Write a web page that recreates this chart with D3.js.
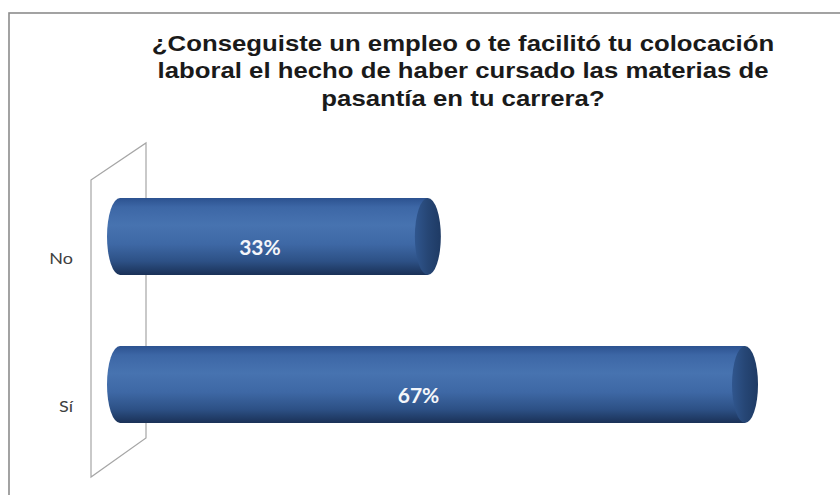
<!DOCTYPE html>
<html>
<head>
<meta charset="utf-8">
<script src="https://cdn.jsdelivr.net/npm/d3@7"></script>
<style>
html,body{margin:0;padding:0;background:#fff;}
svg{display:block;}
</style>
</head>
<body>
<svg id="chart" width="840" height="495"></svg>
<script>
const categories = ["No", "Sí"];
const values = [0.33, 0.67];
const valueLabels = ["33%", "67%"];
const titleLines = [
  "¿Conseguiste un empleo o te facilitó tu colocación",
  "laboral el hecho de haber cursado las materias de",
  "pasantía en tu carrera?"
];

const svg = d3.select("#chart");
const defs = svg.append("defs");

// outer frame (clipped by window)
svg.append("rect").attr("x", 9).attr("y", 13).attr("width", 860).attr("height", 520)
  .attr("fill", "#fff").attr("stroke", "#8c8c8c").attr("stroke-width", 1.6);

// title
svg.append("g").attr("transform", "translate(463,0) scale(1.12,1)")
  .append("text")
  .attr("font-family", "Liberation Sans, Arial, sans-serif")
  .attr("font-weight", "bold").attr("font-size", 23).attr("fill", "#1a1a1a")
  .attr("text-anchor", "middle")
  .selectAll("tspan").data(titleLines).join("tspan")
  .attr("x", 0).attr("y", (d, i) => 51 + i * 27.5).text(d => d);

const x = d3.scaleLinear().domain([0, 0.7]).range([120, 773]);
const y = d3.scaleBand().domain(categories).range([162.5, 458.5]).paddingInner(0.48).paddingOuter(0.24);

// back wall
svg.append("path")
  .attr("d", "M91,180 L146,143 L146,438 L91,477 Z")
  .attr("fill", "#fff").attr("stroke", "#a6a6a6").attr("stroke-width", 1.2);

// gradients
const gBody = defs.append("linearGradient").attr("id", "body").attr("x1", 0).attr("y1", 0).attr("x2", 0).attr("y2", 1);
[[0, "#2c5290"], [0.12, "#3d67a6"], [0.35, "#4773b0"], [0.6, "#3e68a5"], [0.82, "#2d5186"], [1, "#1a3157"]]
  .forEach(([o, c]) => gBody.append("stop").attr("offset", o).attr("stop-color", c));
const gCap = defs.append("linearGradient").attr("id", "cap").attr("x1", 0).attr("y1", 0).attr("x2", 1).attr("y2", 0);
[[0, "#30568e"], [0.5, "#264675"], [1, "#1e3a64"]]
  .forEach(([o, c]) => gCap.append("stop").attr("offset", o).attr("stop-color", c));

const rx = 13;
const bars = svg.append("g").selectAll("g").data(categories).join("g");
bars.each(function (c, i) {
  const g = d3.select(this);
  const y0 = y(c), h = y.bandwidth(), cy = y0 + h / 2;
  const xs = x(0), xe = x(values[i]);
  g.append("path")
    .attr("d", `M${xs},${y0} L${xe},${y0} L${xe},${y0 + h} L${xs},${y0 + h} A${rx},${h / 2} 0 0 1 ${xs},${y0} Z`)
    .attr("fill", "url(#body)");
  g.append("ellipse").attr("cx", xe).attr("cy", cy).attr("rx", rx).attr("ry", h / 2)
    .attr("fill", "url(#cap)");
});

// value labels
svg.append("g").selectAll("text").data(categories).join("text")
  .attr("x", (c, i) => (x(0) + x(values[i])) / 2 - 14)
  .attr("y", c => y(c) + y.bandwidth() / 2 + 18)
  .attr("text-anchor", "middle")
  .attr("font-family", "Lato, Open Sans, sans-serif").attr("font-weight", "bold")
  .attr("font-size", 21).attr("fill", "#f4f6fa")
  .text((c, i) => valueLabels[i]);

// category labels
svg.append("g").selectAll("g").data(categories).join("g")
  .attr("transform", c => `translate(73,${y(c) + y.bandwidth() / 2 + 27}) scale(1.2,1)`)
  .append("text")
  .attr("text-anchor", "end")
  .attr("font-family", "Lato, Open Sans, sans-serif")
  .attr("font-size", 15).attr("fill", "#404040")
  .text(c => c);
</script>
</body>
</html>
